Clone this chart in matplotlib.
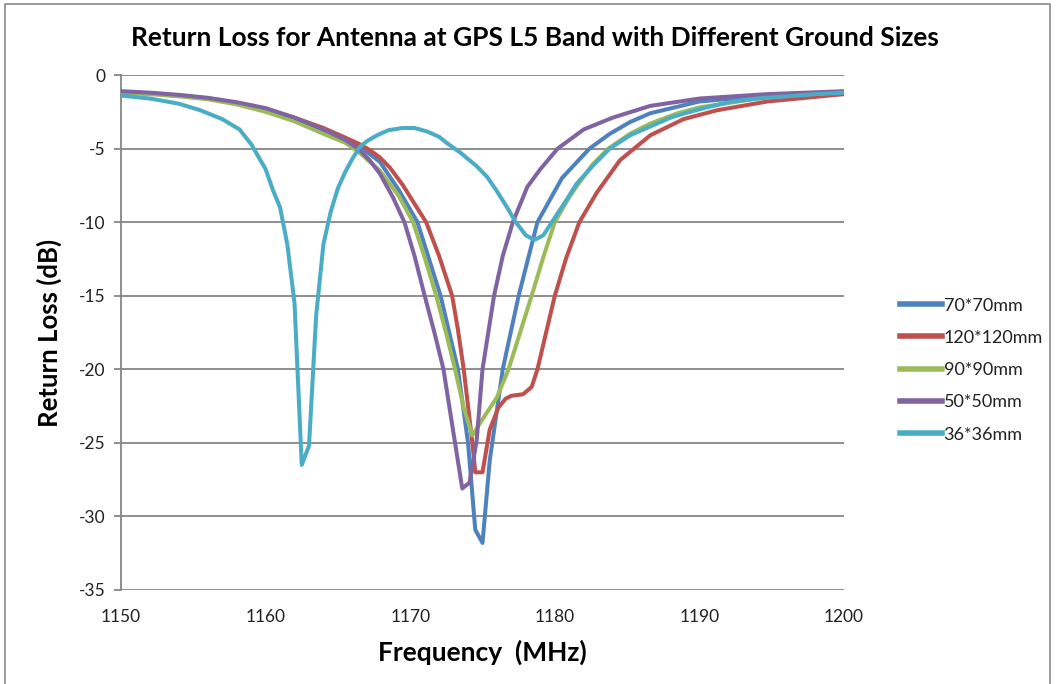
import matplotlib
matplotlib.use("Agg")
import matplotlib.pyplot as plt
from matplotlib.lines import Line2D

# ground size labels, in legend order
labels = ["70*70mm", "120*120mm", "90*90mm", "50*50mm", "36*36mm"]
colors = ["#4F81BD", "#C0504D", "#9BBB59", "#8064A2", "#4BACC6"]

# 70*70mm
f_70 = [1150, 1152, 1154, 1156, 1158, 1160, 1162, 1164, 1165.5, 1166.7, 1167.9, 1169.2,
        1170.5, 1171.3, 1172.1, 1172.7, 1173.3, 1174.0, 1174.5, 1175.0, 1175.5, 1176.4,
        1177.5, 1178.8, 1180.5, 1182.4, 1183.8, 1185.2, 1186.6, 1190, 1194.7, 1200]
s_70 = [-1.15, -1.25, -1.4, -1.6, -1.9, -2.35, -3.0, -3.8, -4.5, -5.0, -5.9, -7.8,
        -10.0, -12.5, -15.0, -17.5, -20.0, -25.0, -30.9, -31.8, -26.2, -20.0,
        -15.0, -10.0, -7.0, -5.0, -4.0, -3.2, -2.6, -1.8, -1.4, -1.15]

# 120*120mm
f_120 = [1150, 1152, 1154, 1156, 1158, 1160, 1162, 1164, 1165.5, 1166.5, 1167.2, 1167.9,
         1168.6, 1169.5, 1170.2, 1171.1, 1172.0, 1172.9, 1173.3, 1173.7, 1174.0, 1174.3,
         1174.5, 1175.0, 1175.5, 1176.1, 1176.6, 1177.0, 1177.8, 1178.4, 1178.8, 1179.4,
         1180.0, 1180.8, 1181.7, 1182.9, 1184.5, 1186.6, 1188.9, 1191.2, 1194.7, 1200]
s_120 = [-1.15, -1.25, -1.4, -1.6, -1.9, -2.3, -2.9, -3.6, -4.25, -4.7, -5.1, -5.6,
         -6.3, -7.5, -8.6, -10.0, -12.3, -15.0, -17.3, -20.0, -22.5, -25.0,
         -27.0, -27.0, -24.1, -22.6, -22.0, -21.8, -21.7, -21.2, -20.0, -17.5,
         -15.0, -12.4, -10.0, -8.0, -5.8, -4.1, -3.0, -2.4, -1.8, -1.3]

# 90*90mm
f_90 = [1150, 1152, 1154, 1156, 1158, 1160, 1162, 1164, 1165.5, 1166.4, 1167.9, 1169.2,
        1170.2, 1171.0, 1171.8, 1172.5, 1173.1, 1173.7, 1174.3, 1175.0, 1176.0, 1176.8,
        1177.6, 1178.4, 1179.2, 1180.0, 1181.0, 1181.7, 1182.6, 1183.7, 1185.2, 1186.6,
        1188.5, 1190, 1194.7, 1200]
s_90 = [-1.2, -1.3, -1.45, -1.65, -2.0, -2.5, -3.15, -4.0, -4.6, -5.2, -6.5, -8.2,
        -10.0, -12.4, -15.0, -17.6, -20.0, -22.6, -24.5, -23.4, -21.9, -20.0,
        -17.5, -15.0, -12.4, -10.0, -8.3, -7.3, -6.1, -5.0, -4.0, -3.3,
        -2.6, -2.2, -1.5, -1.15]

# 50*50mm
f_50 = [1150, 1152, 1154, 1156, 1158, 1160, 1162, 1164, 1165.5, 1166.4, 1167.2, 1167.9,
        1168.8, 1169.6, 1170.3, 1171.0, 1171.7, 1172.3, 1173.1, 1173.6, 1174.1, 1174.6,
        1175.0, 1175.8, 1176.4, 1177.1, 1178.1, 1179.0, 1180.2, 1182.0, 1184.0, 1186.6,
        1190, 1194.7, 1200]
s_50 = [-1.1, -1.2, -1.35, -1.55, -1.85, -2.25, -2.9, -3.7, -4.4, -5.0, -5.8, -6.7,
        -8.3, -10.0, -12.3, -15.0, -17.6, -20.0, -25.0, -28.1, -27.7, -24.8,
        -20.0, -15.0, -12.3, -10.0, -7.6, -6.4, -5.0, -3.7, -2.9, -2.1,
        -1.6, -1.3, -1.1]

# 36*36mm
f_36 = [1150, 1152, 1154, 1155.5, 1157, 1158.2, 1159, 1160, 1160.5, 1161, 1161.5, 1162,
        1162.5, 1163, 1163.5, 1164, 1164.5, 1165, 1165.5, 1166, 1166.5, 1167, 1167.7,
        1168.5, 1169.5, 1170.3, 1171.2, 1172, 1172.5, 1173.5, 1174.6, 1175.3, 1176,
        1176.7, 1177.3, 1178, 1178.6, 1179.2, 1179.8, 1180.8, 1181.5, 1182.6, 1183.8,
        1185.2, 1186.6, 1188, 1189, 1190.5, 1192.3, 1194, 1196, 1198, 1200]
s_36 = [-1.4, -1.6, -1.95, -2.4, -3.0, -3.7, -4.7, -6.4, -7.8, -9.0, -11.5, -15.5,
        -26.5, -25.2, -16.3, -11.5, -9.3, -7.7, -6.6, -5.7, -4.9, -4.5, -4.1,
        -3.75, -3.6, -3.6, -3.85, -4.2, -4.6, -5.3, -6.2, -6.9, -7.9,
        -9.0, -10.0, -10.9, -11.2, -10.9, -10.0, -8.5, -7.4, -6.2, -5.0,
        -4.1, -3.5, -2.9, -2.6, -2.2, -1.8, -1.6, -1.45, -1.3, -1.2]

freqs = [f_70, f_120, f_90, f_50, f_36]
series = [s_70, s_120, s_90, s_50, s_36]

x_ticks = [1150, 1160, 1170, 1180, 1190, 1200]
y_ticks = [0, -5, -10, -15, -20, -25, -30, -35]

plt.rcParams['font.family'] = ['Lato', 'DejaVu Sans']

fig = plt.figure(figsize=(10.56, 6.84), dpi=100)
ax = fig.add_axes([121 / 1056, 1 - 590 / 684, (844 - 121) / 1056, (590 - 75) / 684])

grid_col = "#868686"
for yt in y_ticks:
    ax.axhline(yt, color=grid_col, lw=1.3, zorder=1)

for f, s, lab, c in zip(freqs, series, labels, colors):
    ax.plot(f, s, color=c, lw=2.9, label=lab, zorder=3, solid_joinstyle="round")

ax.set_xlim(1150, 1200)
ax.set_ylim(-35, 0)
ax.set_xticks(x_ticks)
ax.set_yticks(y_ticks)
ax.set_xticklabels([str(v) for v in x_ticks])
ax.set_yticklabels([str(v) for v in y_ticks])

for side in ["top", "right", "bottom"]:
    ax.spines[side].set_visible(False)
ax.spines["left"].set_color(grid_col)
ax.spines["left"].set_linewidth(1.3)
ax.tick_params(axis="y", length=5, width=1.3, color=grid_col, labelsize=12.5,
               labelcolor="#222222", pad=6)
ax.tick_params(axis="x", length=0, labelsize=12.5, labelcolor="#222222", pad=14)

ax.set_xlabel("Frequency  (MHz)", fontsize=19, fontweight="bold", labelpad=10)
ax.set_ylabel("Return Loss (dB)", fontsize=18.5, fontweight="bold", labelpad=12)

fig.text(535 / 1056, 1 - 38 / 684,
         "Return Loss for Antenna at GPS L5 Band with Different Ground Sizes",
         ha="center", va="center", fontsize=19, fontweight="bold")

handles = [Line2D([0], [0], color=c, lw=4) for c in colors]
fig.legend(handles, labels, loc="center left", bbox_to_anchor=(884 / 1056, 1 - 370 / 684),
           frameon=False, fontsize=13, handlelength=2.3, handletextpad=0.1,
           labelspacing=0.9, labelcolor="#222222")

# outer chart border
fig.add_artist(Line2D([5 / 1056, 5 / 1056, 1050 / 1056, 1050 / 1056],
                      [-0.01, 1 - 4 / 684, 1 - 4 / 684, -0.01],
                      transform=fig.transFigure, color="#8a8a8a", lw=1.2))

fig.savefig("out.png", dpi=100)
